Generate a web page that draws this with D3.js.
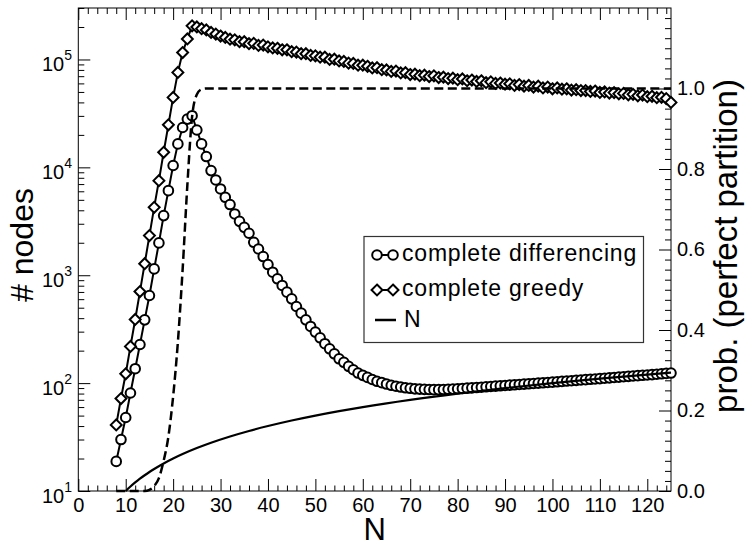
<!DOCTYPE html>
<html><head><meta charset="utf-8">
<script src="https://cdn.jsdelivr.net/npm/d3@7"></script>
<style>body{margin:0;background:#fff}text{font-family:"Liberation Sans",Arial,Helvetica,sans-serif}</style>
</head><body><svg id="c" width="747" height="546"></svg>
<script>
// ---------- data ----------
const sizes = d3.range(8, 126); // N = 8 .. 125
const differencing = [18.8,30,48,81,136,228,386,649,1145,1995,3570,6085,10400,16500,23400,28000,30100,
22200,16500,12600,9330,7640,6310,5280,4520,3700,3160,2780,2450,2020,1750,1490,1256,1067,927,804,697,604,513,445,386,335,297,263,232,208,187,168,156,143,133,124,118,
113,108,104,101,98,95.5,93.5,92,90.5,89.5,88.5,88,87.5,87.2,87,87,87.2,87.6,88,88.6,89.2,89.8,90.4,91,91.7,92.4,93,93.7,94.4,95.1,95.8,96.5,97.2,97.9,98.6,99.3,100,100.7,101.4,102.1,
102.9,103.7,104.5,105.3,106.1,106.9,107.7,108.5,109.3,110.1,111,111.9,112.8,113.7,114.6,115.5,116.4,117.3,118.2,119.1,120,121,122,123,124];
const greedy = [41,72,122,219,389,706,1280,2330,4260,7530,13800,24800,44500,75900,116000,155000,205000,
200000,193000,188000,178000,172000,165000,160000,154000,152000,146000,146000,140000,141000,135000,136000,131000,128000,127000,123000,123000,118000,117000,113000,113000,109000,108000,
105000,105000,100000,100500,97000,96000,92500,92000,88500,88500,86500,83500,84000,80500,80000,77500,78000,75000,75500,72500,73000,70800,71500,69500,70500,68000,68500,66500,67000,
65000,66000,63500,64500,62500,63500,61000,62000,60000,60500,59000,59500,57500,58500,56500,57500,55500,56500,54500,55500,53500,54500,53000,53500,52000,52500,51500,51500,50500,51000,
49500,50000,48800,49300,48000,48500,47000,47500,46000,46800,45200,45600,44200,44600,43400,40000];
const probN   = [8,10,12,14,15,16,17,18,19,20,21,22,23,24,25,26,27,28,30,40,60,80,100,125];
const probVal = [0,0,0,0,0.003,0.012,0.032,0.075,0.135,0.235,0.37,0.55,0.76,0.93,0.985,0.998,1,1,1,1,1,1,1,1];
const lineN = [10,11,12,13,14,15,16,18,20,22,25,28,32,36,40,45,50,55,60,70,80,90,100,110,125];
const xTicks = [0,10,20,30,40,50,60,70,80,90,100,110,120];
const yTicks = [10,100,1000,10000,100000];
const yExps = ["1","2","3","4","5"];
const rTicks = [0,0.2,0.4,0.6,0.8,1.0];
const rLabels = ["0.0","0.2","0.4","0.6","0.8","1.0"];
const legendLabels = ["complete differencing","complete greedy","N"];

// ---------- layout ----------
const L = 78.3, R = 671, T = 8, B = 491;
const svg = d3.select("#c");
const x = d3.scaleLinear().domain([0,125]).range([L,R]);
const y = d3.scaleLog().domain([10,3e5]).range([B,T]);
const yr = d3.scaleLinear().domain([0,1.2]).range([B,T]);

const xMinor = d3.range(0,125.01,2).filter(v => v % 10 !== 0);
const yMinor = [];
[10,100,1000,10000,100000].forEach(d => { for (let k=2;k<=9;k++){ const v=d*k; if (v<=3e5) yMinor.push(v);} });
const rMinor = d3.range(0,1.2001,0.025).filter(v => Math.abs(v*5 - Math.round(v*5))>1e-6);

function styleAxis(g){ g.select(".domain").remove(); g.selectAll("line").attr("stroke","#000").attr("stroke-width",1); g.selectAll("text").attr("font-size",20).attr("fill","#000").attr("font-family","Liberation Sans, Arial, sans-serif"); }

// bottom
svg.append("g").attr("transform",`translate(0,${B})`).call(d3.axisBottom(x).tickValues(xMinor).tickSize(-5.5).tickFormat("")).call(styleAxis);
svg.append("g").attr("transform",`translate(0,${B})`).call(d3.axisBottom(x).tickValues(xTicks).tickSize(-12).tickPadding(7).tickFormat(d3.format("d"))).call(styleAxis);
// top
svg.append("g").attr("transform",`translate(0,${T})`).call(d3.axisTop(x).tickValues(xMinor).tickSize(-6).tickFormat("")).call(styleAxis);
svg.append("g").attr("transform",`translate(0,${T})`).call(d3.axisTop(x).tickValues(xTicks).tickSize(-12).tickFormat("")).call(styleAxis);
// left
svg.append("g").attr("transform",`translate(${L},0)`).call(d3.axisLeft(y).tickValues(yMinor).tickSize(-6).tickFormat("")).call(styleAxis);
svg.append("g").attr("transform",`translate(${L},0)`).call(d3.axisLeft(y).tickValues(yTicks).tickSize(-12).tickFormat("")).call(styleAxis);
// right
svg.append("g").attr("transform",`translate(${R},0)`).call(d3.axisRight(yr).tickValues(rMinor).tickSize(-6).tickFormat("")).call(styleAxis);
svg.append("g").attr("transform",`translate(${R},0)`).call(d3.axisRight(yr).tickValues(rTicks).tickSize(-12).tickPadding(6).tickFormat((d,i)=>rLabels[i])).call(styleAxis);

// log labels 10^k
const ll = svg.append("g");
yTicks.forEach((v,i) => {
  const t = ll.append("text").attr("x",72).attr("y",y(v)+11.5).attr("text-anchor","end").attr("font-size",20);
  t.append("tspan").text("10");
  t.append("tspan").attr("dy",-11).attr("font-size",14).text(yExps[i]);
});

// frame
svg.append("rect").attr("x",L).attr("y",T).attr("width",R-L).attr("height",B-T).attr("fill","none").attr("stroke","#000").attr("stroke-width",1);

// ---------- series ----------
const line = d3.line().x(d=>x(d[0])).y(d=>y(d[1]));
const diffPts = sizes.map((n,i)=>[n,differencing[i]]);
const greedyPts = sizes.map((n,i)=>[n,greedy[i]]);

svg.append("path").datum(diffPts).attr("d",line).attr("fill","none").attr("stroke","#000").attr("stroke-width",2);
svg.append("g").selectAll("circle").data(diffPts).join("circle")
  .attr("cx",d=>x(d[0])).attr("cy",d=>y(d[1])).attr("r",4.8)
  .attr("fill","#fff").attr("stroke","#000").attr("stroke-width",2);

const dia = d3.symbol().type(d3.symbolDiamond2).size(76);
svg.append("path").datum(greedyPts).attr("d",line).attr("fill","none").attr("stroke","#000").attr("stroke-width",2);
svg.append("g").selectAll("path").data(greedyPts).join("path")
  .attr("d",dia).attr("transform",d=>`translate(${x(d[0])},${y(d[1])})`)
  .attr("fill","#fff").attr("stroke","#000").attr("stroke-width",2);

// N line
svg.append("path").datum(lineN.map(n=>[n,n])).attr("d",line.curve(d3.curveMonotoneX)).attr("fill","none").attr("stroke","#000").attr("stroke-width",2.2);

// probability (dashed, right axis)
const pline = d3.line().x(d=>x(d[0])).y(d=>yr(d[1])).curve(d3.curveMonotoneX);
svg.append("path").datum(probN.map((n,i)=>[n,probVal[i]])).attr("d",pline)
  .attr("fill","none").attr("stroke","#000").attr("stroke-width",2.5).attr("stroke-dasharray","9,4.5");

// ---------- legend ----------
const lg = svg.append("g");
lg.append("rect").attr("x",364).attr("y",236.5).attr("width",279.5).attr("height",106).attr("fill","#fff").attr("stroke","#333").attr("stroke-width",1.2);
const rows = [255,290,320], base = [261,296,327];
lg.append("line").attr("x1",377).attr("x2",393).attr("y1",rows[0]).attr("y2",rows[0]).attr("stroke","#000").attr("stroke-width",2);
[377,393].forEach(cx=>lg.append("circle").attr("cx",cx).attr("cy",rows[0]).attr("r",4.8).attr("fill","#fff").attr("stroke","#000").attr("stroke-width",2));
lg.append("line").attr("x1",377).attr("x2",393).attr("y1",rows[1]).attr("y2",rows[1]).attr("stroke","#000").attr("stroke-width",2);
[377,393].forEach(cx=>lg.append("path").attr("d",dia).attr("transform",`translate(${cx},${rows[1]})`).attr("fill","#fff").attr("stroke","#000").attr("stroke-width",2));
lg.append("line").attr("x1",375).attr("x2",396).attr("y1",rows[2]).attr("y2",rows[2]).attr("stroke","#000").attr("stroke-width",2.5);
legendLabels.forEach((t,i)=>lg.append("text").attr("x",i===2?404:402).attr("y",base[i]).attr("font-size",23).attr("letter-spacing","0.8px").attr("fill","#000").text(t));

// ---------- titles ----------
svg.append("text").attr("x",(L+R)/2).attr("y",540).attr("text-anchor","middle").attr("font-size",31).text("N");
svg.append("text").attr("transform","translate(33,245) rotate(-90)").attr("text-anchor","middle").attr("font-size",32).text("# nodes");
svg.append("text").attr("transform","translate(737,246) rotate(-90)").attr("text-anchor","middle").attr("font-size",33).text("prob. (perfect partition)");
</script></body></html>
